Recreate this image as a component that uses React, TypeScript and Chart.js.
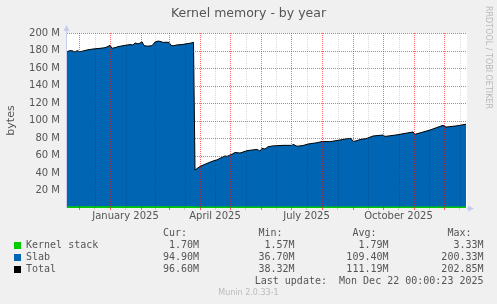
import React, { useEffect, useRef } from 'react';
import { Chart, registerables } from 'chart.js';
Chart.register(...registerables);

// x values are days since 1 January 2025
const totalDays = [
  -43, -41, -38, -35, -33, -30, -27, -23, -17, -10,
  -5, -2, 0, 2, 5, 8, 13, 20, 23, 25,
  28, 30, 32, 34, 37, 42, 45, 48, 51, 53,
  56, 59, 61, 63, 67, 72, 75, 80, 83.5,
  85, 90, 97, 103, 107, 110, 115, 117, 123, 125,
  130, 137, 140, 147, 150, 152, 155, 158, 163, 173,
  182, 183, 187, 193, 198, 207, 212, 220, 230, 237,
  241, 243, 247, 250, 257, 263, 273, 275, 287, 303,
  305, 320, 333, 336, 347, 356,
];
// Total (Kernel stack + Slab), in M
const totalValues = [
  178.5, 179.6, 179.8, 178.2, 179.8, 178.6, 179.4, 180.6, 181.7, 182.5,
  183.2, 184.6, 185.9, 182.6, 183.2, 184.4, 185.5, 186.8, 186.2, 188.6,
  187.6, 188.4, 190.0, 185.6, 185.0, 185.4, 189.6, 190.8, 190.2, 189.2,
  189.5, 189.2, 186.0, 185.3, 186.4, 186.8, 187.4, 188.3, 189.3,
  43.4, 47.5, 51.0, 53.7, 55.0, 56.8, 59.5, 59.0, 62.0, 63.5,
  62.8, 65.5, 66.0, 67.0, 65.0, 68.2, 67.4, 70.0, 71.0, 71.6,
  71.6, 72.8, 70.6, 71.4, 73.1, 74.6, 76.0, 75.8, 77.7, 79.2,
  79.6, 76.0, 77.0, 78.2, 79.6, 82.3, 83.4, 81.8, 83.6, 86.9,
  84.2, 89.1, 94.5, 92.5, 93.9, 95.8,
];
const kernelDays = [-43, 83.5, 85, 356];
const kernelStack = [1.9, 1.9, 1.7, 1.7];

const X_MIN = -43;
const X_MAX = 357;
const monthStartDays = [-61, -31, 0, 31, 59, 90, 120, 151, 181, 212, 243, 273, 304, 334, 365];
const monthLabels = ['', '', 'January 2025', '', '', 'April 2025', '', '', 'July 2025', '', '', 'October 2025', '', '', ''];

const yTickValues = [20, 40, 60, 80, 100, 120, 140, 160, 180, 200];

const legendNames = ['Kernel stack', 'Slab', 'Total'];
const legendColors = ['#00cc00', '#0066b3', '#000000'];
const curValues = ['1.70M', '94.90M', '96.60M'];
const minValues = ['1.57M', '36.70M', '38.32M'];
const avgValues = ['1.79M', '109.40M', '111.19M'];
const maxValues = ['3.33M', '200.33M', '202.85M'];
const colHeaders = ['Cur:', 'Min:', 'Avg:', 'Max:'];

const TITLE = 'Kernel memory - by year';
const Y_TITLE = 'bytes';
const LAST_UPDATE = 'Last update:  Mon Dec 22 00:00:23 2025';
const FOOTER = 'Munin 2.0.33-1';
const WATERMARK = 'RRDTOOL / TOBI OETIKER';

const MAJOR = 'rgba(255,0,0,0.6)';
const MINOR = 'rgba(0,0,0,0.15)';
const TEXT = '#555555';

export default function App() {
  const ref = useRef<HTMLCanvasElement>(null);
  useEffect(() => {
    document.body.style.margin = '0';
    document.body.style.background = '#f0f0f0';
    const startSet = new Set(monthStartDays);
    const labelMap = new Map<number, string>();
    const tickVals: number[] = [];
    for (let i = 0; i < monthStartDays.length; i++) {
      tickVals.push(monthStartDays[i]);
      if (i + 1 < monthStartDays.length) {
        const mid = (monthStartDays[i] + monthStartDays[i + 1]) / 2;
        tickVals.push(mid);
        if (monthLabels[i]) labelMap.set(mid, monthLabels[i]);
      }
    }
    const xTicks = tickVals.filter((v) => v > X_MIN && v < X_MAX);
    const xColor = (c: any) => (c.tick && startSet.has(c.tick.value) ? MAJOR : MINOR);

    const grid = {
      id: 'dotgrid',
      afterDatasetsDraw(chart: any) {
        const { ctx, chartArea: a, scales } = chart;
        const xs = scales.x;
        const ys = scales.y;
        ctx.save();
        xs.ticks.forEach((t: any) => {
          const px = Math.round(xs.getPixelForValue(t.value));
          if (px < a.left || px >= a.right) return;
          ctx.fillStyle = startSet.has(t.value) ? MAJOR : MINOR;
          for (let y = a.top; y < a.bottom; y += 2) ctx.fillRect(px, y, 1, 1);
        });
        ys.ticks.forEach((t: any) => {
          if (t.value <= 0) return;
          const py = Math.round(ys.getPixelForValue(t.value));
          ctx.fillStyle = t.value % 20 === 0 ? MAJOR : MINOR;
          for (let x = a.left; x < a.right; x += 2) ctx.fillRect(x, py, 1, 1);
        });
        ctx.restore();
      },
    };

    const decor = {
      id: 'decor',
      beforeDraw(chart: any) {
        const { ctx, chartArea: a } = chart;
        ctx.save();
        ctx.fillStyle = '#f0f0f0';
        ctx.fillRect(0, 0, chart.width, chart.height);
        ctx.fillStyle = '#ffffff';
        ctx.fillRect(a.left, a.top, a.right - a.left, a.bottom - a.top);
        ctx.restore();
      },
      afterDraw(chart: any) {
        const { ctx, chartArea: a } = chart;
        ctx.save();
        // axes arrows
        ctx.strokeStyle = '#c8cdf0';
        ctx.fillStyle = '#c8cdf0';
        ctx.lineWidth = 1;
        ctx.beginPath();
        ctx.moveTo(a.left - 0.5, a.bottom);
        ctx.lineTo(a.left - 0.5, a.top - 4);
        ctx.moveTo(a.right, a.bottom + 0.5);
        ctx.lineTo(a.right + 3, a.bottom + 0.5);
        ctx.stroke();
        ctx.beginPath();
        ctx.moveTo(a.left - 3.5, a.top - 2);
        ctx.lineTo(a.left - 0.5, a.top - 8);
        ctx.lineTo(a.left + 2.5, a.top - 2);
        ctx.closePath();
        ctx.fill();
        ctx.beginPath();
        ctx.moveTo(a.right + 1, a.bottom - 2.5);
        ctx.lineTo(a.right + 7, a.bottom + 0.5);
        ctx.lineTo(a.right + 1, a.bottom + 3.5);
        ctx.closePath();
        ctx.fill();

        // title
        ctx.fillStyle = TEXT;
        ctx.font = '12.5px "DejaVu Sans"';
        ctx.textAlign = 'center';
        ctx.textBaseline = 'middle';
        ctx.fillText(TITLE, chart.width / 2, 13.5);

        // y title
        ctx.save();
        ctx.font = '11px "DejaVu Sans"';
        ctx.translate(11, (a.top + a.bottom) / 2);
        ctx.rotate(-Math.PI / 2);
        ctx.fillText(Y_TITLE, 0, 0);
        ctx.restore();

        // watermark
        ctx.save();
        ctx.fillStyle = '#b8b8b8';
        ctx.font = '8px "DejaVu Sans"';
        ctx.textAlign = 'left';
        ctx.translate(488.5, 6);
        ctx.rotate(Math.PI / 2);
        ctx.fillText(WATERMARK, 0, 0);
        ctx.restore();

        // legend
        ctx.font = '10px "DejaVu Sans Mono"';
        ctx.textBaseline = 'middle';
        const rights = [199, 294.5, 388.5, 483.5];
        const cols = [curValues, minValues, avgValues, maxValues];
        ctx.textAlign = 'right';
        colHeaders.forEach((h, i) => ctx.fillText(h, rights[i] - 12, 233.5));
        const rowY = [245.5, 257.5, 269.5];
        legendNames.forEach((n, r) => {
          ctx.fillStyle = legendColors[r];
          ctx.fillRect(14, rowY[r] - 3.5, 7, 7);
          ctx.fillStyle = TEXT;
          ctx.textAlign = 'left';
          ctx.fillText(n, 26, rowY[r]);
          ctx.textAlign = 'right';
          cols.forEach((c, i) => ctx.fillText(c[r], rights[i], rowY[r]));
        });
        ctx.fillText(LAST_UPDATE, 483.5, 281.7);

        ctx.fillStyle = '#bbbbbb';
        ctx.font = '8px "DejaVu Sans"';
        ctx.textAlign = 'center';
        ctx.fillText(FOOTER, chart.width / 2, 292.7);
        ctx.restore();
      },
    };

    Chart.defaults.font.family = '"DejaVu Sans"';
    Chart.defaults.font.size = 10;
    Chart.defaults.color = TEXT;

    const chart = new Chart(ref.current!, {
      type: 'line',
      data: {
        datasets: [
          {
            label: 'Total',
            data: totalDays.map((d, i) => ({ x: d, y: totalValues[i] })),
            borderColor: '#000000',
            borderWidth: 1,
            fill: false,
            pointRadius: 0,
            tension: 0,
          },
          {
            label: 'Kernel stack',
            data: kernelDays.map((d, i) => ({ x: d, y: kernelStack[i] })),
            borderColor: 'rgba(0,0,0,0)',
            backgroundColor: '#00cc00',
            fill: 'origin',
            pointRadius: 0,
            tension: 0,
          },
          {
            label: 'Slab',
            // slab stacked on kernel stack reaches the total
            data: totalDays.map((d, i) => ({ x: d, y: totalValues[i] })),
            borderColor: 'rgba(0,0,0,0)',
            backgroundColor: '#0066b3',
            fill: 'origin',
            pointRadius: 0,
            tension: 0,
          },
        ],
      },
      options: {
        animation: false,
        responsive: false,
        maintainAspectRatio: false,
        devicePixelRatio: 1,
        layout: { padding: { left: 0, top: 33, right: 30, bottom: 76 } },
        plugins: { legend: { display: false }, tooltip: { enabled: false }, title: { display: false } },
        scales: {
          x: {
            type: 'linear',
            min: X_MIN,
            max: X_MAX,
            afterFit: (s: any) => { s.height = 20; },
            afterBuildTicks: (s: any) => { s.ticks = xTicks.map((v) => ({ value: v })); },
            ticks: {
              autoSkip: false,
              maxRotation: 0,
              padding: 0,
              callback: (v: any) => labelMap.get(Number(v)) || '',
            },
            grid: {
              display: true,
              drawOnChartArea: false,
              drawTicks: true,
              tickLength: 2,
              color: xColor,
              tickColor: xColor,
            },
            border: { display: false },
          },
          y: {
            type: 'linear',
            min: 0,
            max: 200,
            afterFit: (s: any) => { s.width = 67; },
            ticks: {
              stepSize: 10,
              padding: 7,
              callback: (v: any) => (yTickValues.includes(Number(v)) ? `${v} M` : ''),
            },
            grid: { display: true, drawOnChartArea: false, drawTicks: false },
            border: { display: false },
          },
        },
      },
      plugins: [decor, grid],
    });
    return () => chart.destroy();
  }, []);
  return (
    <div style={{ width: 497, height: 304 }}>
      <canvas ref={ref} width={497} height={304} style={{ display: 'block', width: 497, height: 304 }} />
    </div>
  );
}
